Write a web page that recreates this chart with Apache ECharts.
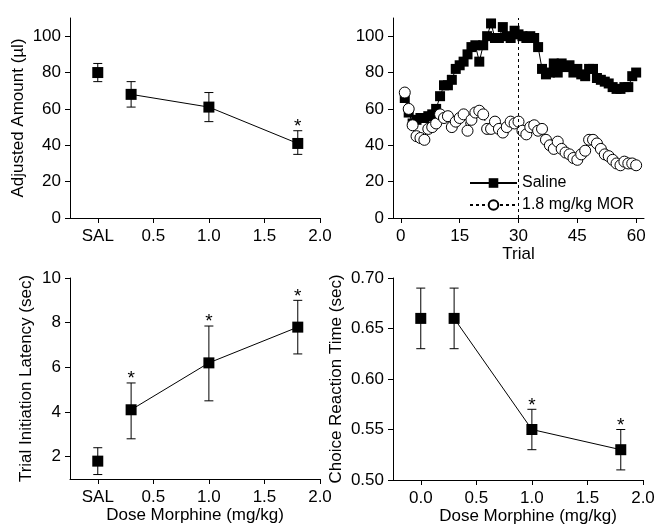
<!DOCTYPE html>
<html>
<head>
<meta charset="utf-8">
<script src="https://cdn.jsdelivr.net/npm/echarts@6/dist/echarts.min.js"></script>
<style>
  html, body { margin: 0; padding: 0; background: #fff; }
  #main { width: 658px; height: 527px; }
</style>
</head>
<body>
<div id="main"></div>
<script>
// dose groups (0 = SAL)
var doses = [0, 0.3, 1.0, 1.8];
var doseTicks = [0, 0.5, 1.0, 1.5, 2.0];

// adjusted amount (ul)
var amountMean = [80, 68, 61, 41];
var amountLow = [75, 61, 53, 35];
var amountHigh = [85, 75, 69, 48];
var amountStar = [0, 0, 0, 1];

// trial initiation latency (sec)
var latencyMean = [1.8, 4.1, 6.2, 7.8];
var latencyLow = [1.2, 2.8, 4.5, 6.6];
var latencyHigh = [2.4, 5.3, 7.85, 9.0];
var latencyStar = [0, 1, 1, 1];

// choice reaction time (sec)
var rtMean = [0.66, 0.66, 0.55, 0.53];
var rtLow = [0.63, 0.63, 0.53, 0.51];
var rtHigh = [0.69, 0.69, 0.57, 0.55];
var rtStar = [0, 0, 1, 1];

// within-session amount per trial
var salineTrials = [66, 58, 52, 54, 55, 55, 56, 57, 60, 67, 73, 73, 76, 82, 84, 86, 90, 94, 95, 86,
                    95, 100, 107, 99, 99, 105, 100, 99, 103, 101, 100, 99, 100, 99, 94, 82, 79, 80, 85, 80,
                    85, 83, 84, 80, 82, 79, 78, 82, 82, 77, 76, 75, 74, 72, 71, 71, 72, 72, 78, 80];
var morTrials = [69, 60, 51, 45, 44, 43, 49, 50, 52, 57, 55, 56, 50, 53, 55, 57, 48, 54, 58, 59,
                 57, 49, 49, 53, 49, 47, 50, 53, 52, 53, 48, 46, 50, 51, 48, 49, 43, 40, 38, 42,
                 38, 36, 35, 33, 32, 35, 37, 43, 43, 41, 38, 35, 34, 32, 30, 29, 31, 30, 30, 29];
var trialTicks = [0, 15, 30, 45, 60];
var amountTicks = [0, 20, 40, 60, 80, 100];
var latencyTicks = [2, 4, 6, 8, 10];
var rtTicks = [0.50, 0.55, 0.60, 0.65, 0.70];

var FONT = 'Liberation Sans, Arial, sans-serif';
var chart = echarts.init(document.getElementById('main'));

function errorItem(params, api) {
    var x = api.value(0);
    var lo = api.coord([x, api.value(1)]);
    var hi = api.coord([x, api.value(2)]);
    var w = 4.5;
    var st = { stroke: '#000', lineWidth: 1 };
    var kids = [
        { type: 'line', shape: { x1: lo[0], y1: lo[1], x2: hi[0], y2: hi[1] }, style: st },
        { type: 'line', shape: { x1: lo[0] - w, y1: lo[1], x2: lo[0] + w, y2: lo[1] }, style: st },
        { type: 'line', shape: { x1: hi[0] - w, y1: hi[1], x2: hi[0] + w, y2: hi[1] }, style: st }
    ];
    if (api.value(3)) {
        kids.push({ type: 'text', x: hi[0], y: hi[1] - 4,
            style: { text: '*', textAlign: 'center', textVerticalAlign: 'middle', font: '19px ' + FONT, fill: '#000' } });
    }
    return { type: 'group', children: kids };
}

function errData(low, high, star) {
    return doses.map(function (d, i) { return [d, low[i], high[i], star[i]]; });
}
function pts(mean, from, to) {
    var out = [];
    for (var i = from; i < to; i++) out.push([doses[i], mean[i]]);
    return out;
}

function xAxisOf(idx, opt) {
    return Object.assign({
        gridIndex: idx, type: 'value',
        axisLine: { onZero: false, lineStyle: { color: '#000', width: 1 } },
        axisTick: { length: 5, lineStyle: { color: '#000' } },
        axisLabel: { color: '#000', fontSize: 17, fontFamily: FONT, margin: 10 },
        splitLine: { show: false },
        nameLocation: 'middle',
        nameTextStyle: { color: '#000', fontSize: 17, fontFamily: FONT }
    }, opt);
}
function yAxisOf(idx, opt) {
    return Object.assign({
        gridIndex: idx, type: 'value',
        axisLine: { show: true, onZero: false, lineStyle: { color: '#000', width: 1 } },
        axisTick: { show: true, length: 5, lineStyle: { color: '#000' } },
        axisLabel: { color: '#000', fontSize: 17, fontFamily: FONT, margin: 9 },
        splitLine: { show: false },
        nameLocation: 'middle',
        nameTextStyle: { color: '#000', fontSize: 17, fontFamily: FONT }
    }, opt);
}
function doseX(idx, salName, name, pad) {
    var o = xAxisOf(idx, { min: -0.25, max: 2.0, name: name || '', nameGap: 21 });
    o.axisLabel = Object.assign({}, o.axisLabel, {
        customValues: doseTicks,
        formatter: function (v) { return (v === 0 && salName) ? 'SAL' : v.toFixed(1); }
    });
    o.axisTick = Object.assign({}, o.axisTick, { customValues: doseTicks });
    o.nameTextStyle = Object.assign({}, o.nameTextStyle, { padding: pad || 0 });
    return o;
}
function ticksY(idx, min, max, ticks, digits, name, gap) {
    var o = yAxisOf(idx, { min: min, max: max, name: name, nameGap: gap });
    o.axisLabel = Object.assign({}, o.axisLabel, {
        customValues: ticks,
        formatter: function (v) { return v.toFixed(digits); }
    });
    o.axisTick = Object.assign({}, o.axisTick, { customValues: ticks });
    return o;
}

var sq = { color: '#000', opacity: 1 };
var lineSt = { color: '#000', width: 1 };

function doseSeries(idx, mean, low, high, star) {
    return [
        { type: 'custom', xAxisIndex: idx, yAxisIndex: idx, renderItem: errorItem,
          data: errData(low, high, star), z: 1, silent: true },
        { type: 'scatter', xAxisIndex: idx, yAxisIndex: idx, symbol: 'rect', symbolSize: 11,
          itemStyle: sq, data: pts(mean, 0, 1), z: 3 },
        { type: 'line', xAxisIndex: idx, yAxisIndex: idx, symbol: 'rect', symbolSize: 11,
          itemStyle: sq, lineStyle: lineSt, data: pts(mean, 1, 4), z: 3 }
    ];
}

var salineData = salineTrials.map(function (v, i) { return [i + 1, v]; });
var morData = morTrials.map(function (v, i) { return [i + 1, v]; });

var option = {
    animation: false,
    textStyle: { fontFamily: FONT },
    grid: [
        { left: 70, top: 18, width: 250, height: 200 },
        { left: 393, top: 18, width: 251, height: 200 },
        { left: 70, top: 278, width: 250, height: 201 },
        { left: 393, top: 278, width: 250, height: 202 }
    ],
    xAxis: [
        doseX(0, true),
        (function () {
            var o = xAxisOf(1, { min: -2, max: 62, name: 'Trial', nameGap: 25 });
            o.axisLabel = Object.assign({}, o.axisLabel, { customValues: trialTicks });
            o.axisTick = Object.assign({}, o.axisTick, { customValues: trialTicks });
            return o;
        })(),
        doseX(2, true, 'Dose Morphine (mg/kg)'),
        doseX(3, false, 'Dose Morphine (mg/kg)', [0, 0, 0, 20])
    ],
    yAxis: [
        ticksY(0, 0, 110, amountTicks, 0, 'Adjusted Amount (\u00b5l)', 43),
        ticksY(1, 0, 110, amountTicks, 0, '', 40),
        ticksY(2, 1, 10, latencyTicks, 0, 'Trial Initiation Latency (sec)', 35),
        ticksY(3, 0.5, 0.7, rtTicks, 2, 'Choice Reaction Time (sec)', 48)
    ],
    legend: {
        left: 464, top: 170, orient: 'vertical',
        itemWidth: 47, itemHeight: 12, itemGap: 6,
        textStyle: { color: '#000', fontSize: 16, fontFamily: FONT },
        data: ['Saline', '1.8 mg/kg MOR']
    },
    series: []
        .concat(doseSeries(0, amountMean, amountLow, amountHigh, amountStar))
        .concat(doseSeries(2, latencyMean, latencyLow, latencyHigh, latencyStar))
        .concat(doseSeries(3, rtMean, rtLow, rtHigh, rtStar))
        .concat([
            { name: 'Saline', type: 'line', xAxisIndex: 1, yAxisIndex: 1, symbol: 'rect', symbolSize: 10,
              itemStyle: sq, lineStyle: lineSt, data: salineData, z: 3,
              markLine: { silent: true, symbol: 'none', label: { show: false },
                          lineStyle: { color: '#000', type: [3, 3], width: 1 },
                          data: [{ xAxis: 30 }] } },
            { name: '1.8 mg/kg MOR', type: 'line', xAxisIndex: 1, yAxisIndex: 1, symbol: 'circle', symbolSize: 11,
              itemStyle: { color: '#fff', borderColor: '#000', borderWidth: 1 },
              lineStyle: { color: '#000', width: 1, type: [3, 3] }, data: morData, z: 4 }
        ])
};
chart.setOption(option);
</script>
</body>
</html>
